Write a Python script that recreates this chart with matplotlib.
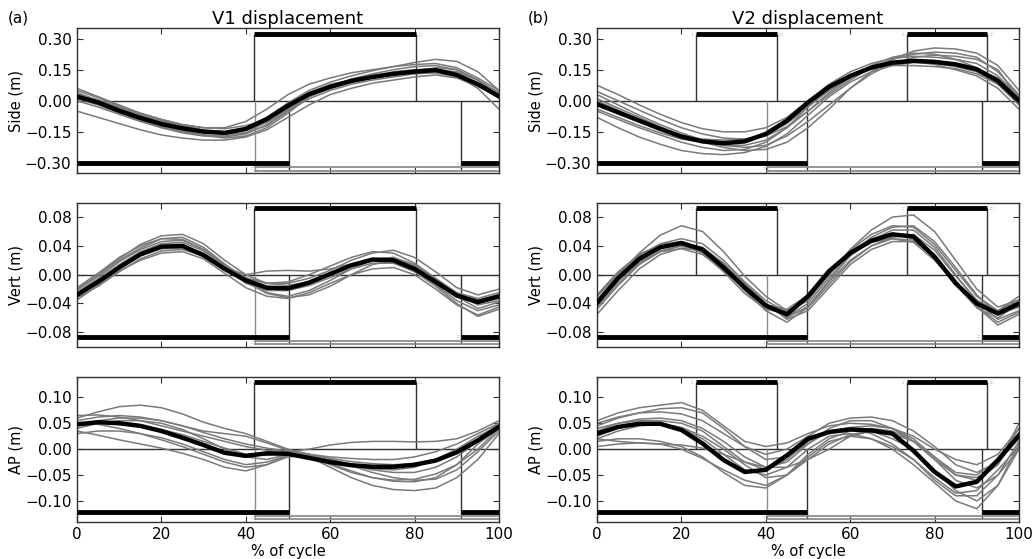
import numpy as np
import matplotlib
matplotlib.use('Agg')
import matplotlib.pyplot as plt

# % of gait cycle, sampled every 5 %
cycle = np.arange(0, 101, 5)

# ---------------- V1 ----------------
v1_side_mean = [0.02, -0.008, -0.048, -0.083, -0.112, -0.133, -0.149, -0.155, -0.136, -0.088, -0.024,
                0.032, 0.067, 0.096, 0.115, 0.13, 0.141, 0.148, 0.125, 0.08, 0.021]
v1_side_trials = [
    [0.06, 0.02, -0.02, -0.06, -0.09, -0.115, -0.13, -0.13, -0.1, -0.04, 0.03, 0.08, 0.11, 0.135, 0.15, 0.165, 0.175, 0.18, 0.16, 0.11, 0.05],
    [-0.05, -0.08, -0.11, -0.14, -0.165, -0.18, -0.19, -0.19, -0.175, -0.14, -0.08, -0.02, 0.03, 0.06, 0.085, 0.1, 0.115, 0.125, 0.11, 0.07, 0.02],
    [0.04, 0.0, -0.04, -0.075, -0.105, -0.13, -0.145, -0.15, -0.13, -0.08, -0.01, 0.05, 0.09, 0.12, 0.145, 0.165, 0.185, 0.2, 0.19, 0.14, 0.05],
    [0.0, -0.03, -0.065, -0.1, -0.13, -0.155, -0.17, -0.175, -0.16, -0.115, -0.05, 0.01, 0.05, 0.08, 0.1, 0.115, 0.13, 0.14, 0.12, 0.06, -0.04],
    [0.03, 0.0, -0.035, -0.07, -0.1, -0.125, -0.145, -0.16, -0.155, -0.12, -0.05, 0.03, 0.075, 0.1, 0.115, 0.125, 0.13, 0.135, 0.115, 0.075, 0.03],
    [0.02, -0.015, -0.055, -0.09, -0.12, -0.145, -0.165, -0.18, -0.17, -0.13, -0.06, 0.02, 0.06, 0.09, 0.11, 0.125, 0.14, 0.15, 0.14, 0.1, 0.04],
    [0.05, 0.015, -0.025, -0.06, -0.09, -0.115, -0.13, -0.135, -0.12, -0.09, -0.04, 0.02, 0.07, 0.105, 0.13, 0.15, 0.165, 0.17, 0.15, 0.1, 0.03],
    [0.01, -0.02, -0.06, -0.095, -0.125, -0.15, -0.165, -0.17, -0.155, -0.1, -0.03, 0.04, 0.08, 0.1, 0.115, 0.125, 0.14, 0.16, 0.15, 0.1, 0.02],
    [0.035, 0.005, -0.03, -0.065, -0.095, -0.12, -0.14, -0.15, -0.14, -0.105, -0.045, 0.02, 0.065, 0.095, 0.12, 0.14, 0.15, 0.155, 0.13, 0.085, 0.035],
]

v1_vert_mean = [-0.028, -0.01, 0.01, 0.028, 0.039, 0.04, 0.027, 0.008, -0.008, -0.018, -0.019,
                -0.011, 0.001, 0.013, 0.021, 0.02, 0.008, -0.01, -0.029, -0.038, -0.03]
v1_vert_trials = [
    [-0.02, 0.0, 0.022, 0.042, 0.054, 0.056, 0.043, 0.02, 0.0, -0.012, -0.015, -0.01, 0.0, 0.012, 0.022, 0.024, 0.012, -0.01, -0.03, -0.04, -0.033],
    [-0.035, -0.015, 0.005, 0.02, 0.03, 0.032, 0.022, 0.002, -0.018, -0.03, -0.033, -0.025, -0.012, 0.0, 0.008, 0.01, 0.0, -0.02, -0.042, -0.056, -0.045],
    [-0.025, -0.005, 0.018, 0.035, 0.046, 0.048, 0.035, 0.012, -0.005, -0.012, -0.01, 0.0, 0.012, 0.024, 0.032, 0.03, 0.016, -0.005, -0.025, -0.033, -0.025],
    [-0.03, -0.012, 0.01, 0.027, 0.036, 0.037, 0.027, 0.01, 0.0, 0.005, 0.006, 0.005, 0.008, 0.015, 0.022, 0.022, 0.01, -0.008, -0.026, -0.035, -0.028],
    [-0.022, -0.002, 0.02, 0.037, 0.05, 0.052, 0.038, 0.015, -0.008, -0.025, -0.03, -0.022, -0.008, 0.008, 0.02, 0.024, 0.014, -0.007, -0.03, -0.047, -0.038],
    [-0.032, -0.016, 0.004, 0.022, 0.033, 0.035, 0.026, 0.008, -0.01, -0.02, -0.02, -0.012, 0.0, 0.012, 0.02, 0.018, 0.006, -0.014, -0.036, -0.05, -0.042],
    [-0.027, -0.008, 0.014, 0.032, 0.043, 0.045, 0.033, 0.012, -0.01, -0.026, -0.032, -0.028, -0.016, 0.0, 0.014, 0.02, 0.012, -0.006, -0.027, -0.042, -0.036],
    [-0.018, 0.002, 0.024, 0.04, 0.05, 0.049, 0.035, 0.014, -0.004, -0.012, -0.012, -0.005, 0.006, 0.02, 0.03, 0.034, 0.024, 0.004, -0.018, -0.028, -0.02],
    [-0.03, -0.01, 0.01, 0.028, 0.038, 0.04, 0.03, 0.01, -0.012, -0.022, -0.022, -0.015, -0.004, 0.008, 0.016, 0.016, 0.004, -0.016, -0.04, -0.058, -0.048],
]

v1_ap_mean = [0.048, 0.052, 0.05, 0.045, 0.035, 0.022, 0.008, -0.007, -0.013, -0.008, -0.009,
              -0.017, -0.025, -0.031, -0.034, -0.034, -0.03, -0.022, -0.006, 0.017, 0.043]
v1_ap_trials = [
    [0.06, 0.072, 0.082, 0.085, 0.08, 0.068, 0.052, 0.04, 0.03, 0.015, 0.0, -0.01, -0.015, -0.018, -0.02, -0.02, -0.015, -0.005, 0.01, 0.03, 0.05],
    [0.035, 0.027, 0.018, 0.01, 0.002, -0.008, -0.02, -0.035, -0.042, -0.03, -0.012, -0.01, -0.02, -0.032, -0.045, -0.055, -0.06, -0.058, -0.04, -0.005, 0.035],
    [0.065, 0.066, 0.062, 0.055, 0.045, 0.035, 0.025, 0.015, 0.005, -0.002, -0.005, 0.0, 0.008, 0.013, 0.015, 0.015, 0.014, 0.015, 0.02, 0.035, 0.055],
    [0.04, 0.05, 0.055, 0.055, 0.05, 0.038, 0.02, 0.0, -0.015, -0.02, -0.01, -0.015, -0.035, -0.055, -0.07, -0.078, -0.08, -0.075, -0.055, -0.02, 0.03],
    [0.045, 0.055, 0.06, 0.06, 0.055, 0.045, 0.032, 0.02, 0.01, 0.002, -0.004, -0.01, -0.02, -0.03, -0.04, -0.045, -0.045, -0.035, -0.015, 0.015, 0.045],
    [0.03, 0.035, 0.035, 0.03, 0.022, 0.01, -0.005, -0.02, -0.03, -0.025, -0.012, -0.015, -0.028, -0.042, -0.055, -0.062, -0.063, -0.055, -0.03, 0.01, 0.04],
    [0.055, 0.062, 0.065, 0.062, 0.055, 0.045, 0.035, 0.03, 0.025, 0.012, -0.002, -0.01, -0.018, -0.024, -0.028, -0.03, -0.028, -0.02, -0.005, 0.02, 0.05],
    [0.05, 0.048, 0.04, 0.03, 0.018, 0.005, -0.01, -0.025, -0.035, -0.03, -0.015, -0.012, -0.02, -0.03, -0.038, -0.04, -0.035, -0.02, 0.0, 0.025, 0.045],
    [0.045, 0.05, 0.05, 0.046, 0.038, 0.028, 0.015, 0.002, -0.01, -0.012, -0.008, -0.015, -0.03, -0.045, -0.055, -0.06, -0.058, -0.048, -0.03, 0.0, 0.04],
]

# ---------------- V2 ----------------
v2_side_mean = [-0.016, -0.056, -0.096, -0.136, -0.173, -0.196, -0.205, -0.196, -0.16, -0.096, -0.008,
                0.067, 0.12, 0.16, 0.184, 0.193, 0.188, 0.176, 0.152, 0.096, 0.0]
v2_side_trials = [
    [0.075, 0.03, -0.02, -0.065, -0.105, -0.135, -0.15, -0.15, -0.13, -0.08, 0.0, 0.08, 0.14, 0.18, 0.205, 0.215, 0.21, 0.2, 0.18, 0.12, 0.02],
    [-0.08, -0.13, -0.175, -0.21, -0.24, -0.255, -0.26, -0.25, -0.22, -0.16, -0.07, 0.02, 0.09, 0.14, 0.17, 0.185, 0.18, 0.165, 0.14, 0.08, -0.02],
    [0.03, -0.02, -0.07, -0.115, -0.155, -0.19, -0.215, -0.225, -0.215, -0.17, -0.1, -0.02, 0.06, 0.13, 0.18, 0.21, 0.22, 0.215, 0.2, 0.15, 0.01],
    [-0.04, -0.08, -0.12, -0.155, -0.185, -0.2, -0.205, -0.195, -0.165, -0.11, -0.03, 0.05, 0.11, 0.155, 0.18, 0.19, 0.185, 0.175, 0.155, 0.11, 0.02],
    [0.01, -0.035, -0.08, -0.125, -0.165, -0.2, -0.225, -0.24, -0.235, -0.2, -0.13, -0.04, 0.06, 0.14, 0.2, 0.24, 0.255, 0.25, 0.23, 0.17, 0.05],
    [-0.02, -0.06, -0.1, -0.135, -0.165, -0.185, -0.19, -0.185, -0.16, -0.1, -0.02, 0.06, 0.12, 0.165, 0.19, 0.19, 0.175, 0.15, 0.12, 0.06, -0.04],
    [0.045, 0.0, -0.045, -0.09, -0.13, -0.16, -0.18, -0.185, -0.17, -0.125, -0.05, 0.03, 0.1, 0.16, 0.2, 0.225, 0.235, 0.23, 0.21, 0.14, 0.03],
    [-0.05, -0.09, -0.13, -0.165, -0.2, -0.225, -0.24, -0.235, -0.2, -0.13, -0.03, 0.06, 0.12, 0.155, 0.17, 0.17, 0.165, 0.155, 0.13, 0.08, -0.01],
    [0.0, -0.045, -0.09, -0.13, -0.17, -0.2, -0.215, -0.215, -0.19, -0.13, -0.05, 0.04, 0.11, 0.17, 0.21, 0.23, 0.225, 0.2, 0.16, 0.1, 0.0],
]

v2_vert_mean = [-0.039, -0.005, 0.022, 0.038, 0.044, 0.035, 0.01, -0.018, -0.043, -0.055, -0.03,
                0.005, 0.03, 0.047, 0.056, 0.053, 0.025, -0.012, -0.04, -0.054, -0.04]
v2_vert_trials = [
    [-0.03, 0.0, 0.03, 0.055, 0.068, 0.06, 0.032, -0.002, -0.03, -0.05, -0.035, 0.0, 0.035, 0.062, 0.08, 0.083, 0.06, 0.02, -0.02, -0.045, -0.035],
    [-0.055, -0.022, 0.008, 0.028, 0.037, 0.033, 0.015, -0.012, -0.04, -0.062, -0.05, -0.018, 0.014, 0.035, 0.046, 0.046, 0.025, -0.01, -0.045, -0.07, -0.055],
    [-0.045, -0.012, 0.016, 0.033, 0.04, 0.032, 0.008, -0.022, -0.05, -0.066, -0.045, -0.008, 0.026, 0.048, 0.062, 0.062, 0.038, 0.0, -0.038, -0.062, -0.05],
    [-0.03, 0.002, 0.028, 0.042, 0.046, 0.036, 0.008, -0.02, -0.042, -0.048, -0.028, 0.005, 0.03, 0.045, 0.05, 0.045, 0.02, -0.012, -0.038, -0.05, -0.035],
    [-0.035, -0.002, 0.026, 0.043, 0.05, 0.043, 0.02, -0.01, -0.036, -0.052, -0.036, 0.0, 0.034, 0.056, 0.068, 0.066, 0.042, 0.006, -0.03, -0.05, -0.03],
    [-0.048, -0.015, 0.014, 0.032, 0.04, 0.036, 0.016, -0.014, -0.042, -0.06, -0.044, -0.01, 0.02, 0.04, 0.05, 0.048, 0.026, -0.008, -0.044, -0.066, -0.052],
    [-0.028, 0.004, 0.028, 0.04, 0.042, 0.03, 0.004, -0.026, -0.048, -0.054, -0.032, 0.004, 0.032, 0.05, 0.058, 0.05, 0.022, -0.014, -0.046, -0.06, -0.04],
    [-0.04, -0.008, 0.02, 0.037, 0.044, 0.038, 0.016, -0.012, -0.04, -0.058, -0.04, -0.004, 0.028, 0.052, 0.066, 0.068, 0.046, 0.01, -0.028, -0.055, -0.045],
    [-0.038, -0.006, 0.018, 0.032, 0.036, 0.028, 0.006, -0.02, -0.044, -0.058, -0.046, -0.014, 0.018, 0.04, 0.052, 0.056, 0.034, -0.002, -0.035, -0.052, -0.045],
]

v2_ap_mean = [0.03, 0.043, 0.049, 0.049, 0.037, 0.011, -0.021, -0.044, -0.04, -0.012, 0.02,
              0.033, 0.038, 0.036, 0.03, -0.003, -0.044, -0.072, -0.063, -0.021, 0.027]
v2_ap_trials = [
    [0.055, 0.07, 0.08, 0.085, 0.09, 0.075, 0.045, 0.015, 0.005, 0.012, 0.03, 0.045, 0.05, 0.048, 0.04, 0.025, 0.0, -0.02, -0.03, -0.01, 0.04],
    [0.005, 0.01, 0.012, 0.01, 0.0, -0.018, -0.04, -0.06, -0.07, -0.05, -0.015, 0.015, 0.025, 0.02, 0.005, -0.02, -0.055, -0.085, -0.08, -0.04, 0.005],
    [0.045, 0.06, 0.07, 0.072, 0.068, 0.055, 0.03, 0.005, -0.01, 0.0, 0.025, 0.05, 0.06, 0.062, 0.055, 0.035, 0.005, -0.03, -0.045, -0.025, 0.02],
    [0.02, 0.035, 0.045, 0.048, 0.04, 0.02, -0.01, -0.04, -0.05, -0.035, 0.0, 0.025, 0.03, 0.02, 0.0, -0.03, -0.065, -0.1, -0.115, -0.07, 0.0],
    [0.035, 0.05, 0.058, 0.06, 0.055, 0.04, 0.015, -0.015, -0.035, -0.025, 0.01, 0.035, 0.042, 0.045, 0.04, 0.02, -0.015, -0.05, -0.06, -0.03, 0.03],
    [0.015, 0.02, 0.02, 0.015, 0.005, -0.015, -0.045, -0.07, -0.075, -0.05, -0.01, 0.02, 0.035, 0.04, 0.035, 0.015, -0.02, -0.06, -0.075, -0.05, 0.0],
    [0.04, 0.05, 0.055, 0.055, 0.05, 0.035, 0.005, -0.025, -0.04, -0.02, 0.015, 0.035, 0.04, 0.03, 0.01, -0.02, -0.06, -0.09, -0.09, -0.05, 0.015],
    [0.025, 0.04, 0.05, 0.05, 0.042, 0.025, 0.0, -0.03, -0.055, -0.05, -0.02, 0.01, 0.028, 0.035, 0.03, 0.015, -0.015, -0.045, -0.05, -0.02, 0.04],
    [0.05, 0.062, 0.07, 0.078, 0.08, 0.07, 0.04, 0.005, -0.02, -0.015, 0.01, 0.04, 0.055, 0.055, 0.04, 0.015, -0.02, -0.05, -0.055, -0.03, 0.05],
    [0.02, 0.015, 0.012, 0.01, 0.008, 0.002, -0.01, -0.025, -0.035, -0.035, -0.02, 0.0, 0.025, 0.035, 0.02, 0.0, -0.04, -0.08, -0.1, -0.07, 0.01],
]

# gait events (% of cycle): top bars, bottom bars, start of the grey (other side) bars
v1_top_bars = [(41.9, 80.3)]
v1_bot_bars = [(0, 50.3), (91.1, 100)]
v1_grey_start = 42.3
v2_top_bars = [(23.4, 42.6), (73.4, 92.5)]
v2_bot_bars = [(0, 49.8), (91.2, 100)]
v2_grey_start = 40.4

row_labels = ['Side (m)', 'Vert (m)', 'AP (m)']
row_ylims = [(-0.35, 0.35), (-0.1, 0.1), (-0.14, 0.14)]
row_yticks = [[-0.30, -0.15, 0.0, 0.15, 0.30],
              [-0.08, -0.04, 0.0, 0.04, 0.08],
              [-0.10, -0.05, 0.0, 0.05, 0.10]]

columns = [
    dict(title='V1 displacement', letter='(a)',
         means=[v1_side_mean, v1_vert_mean, v1_ap_mean],
         trials=[v1_side_trials, v1_vert_trials, v1_ap_trials],
         top=v1_top_bars, bot=v1_bot_bars, grey=v1_grey_start),
    dict(title='V2 displacement', letter='(b)',
         means=[v2_side_mean, v2_vert_mean, v2_ap_mean],
         trials=[v2_side_trials, v2_vert_trials, v2_ap_trials],
         top=v2_top_bars, bot=v2_bot_bars, grey=v2_grey_start),
]


def fmt_tick(v, pos):
    s = '%.2f' % v
    if s == '-0.00':
        s = '0.00'
    return s.replace('-', '\u2212')


plt.rcParams['font.family'] = 'DejaVu Sans'
fig = plt.figure(figsize=(10.32, 5.59), dpi=100)

col_left = [0.0746, 0.5785]
col_w = 0.4089
row_bottom = [0.690, 0.3798, 0.0668]
row_h = [0.2594, 0.2576, 0.2594]

edge = '#303030'

for c, col in enumerate(columns):
    for r in range(3):
        ax = fig.add_axes([col_left[c], row_bottom[r], col_w, row_h[r]])
        lo, hi = row_ylims[r]
        span = hi - lo
        y_top = lo + 0.96 * span
        y_bot = lo + 0.07 * span
        y_g1 = lo + 0.04 * span
        y_g2 = lo + 0.018 * span

        # individual trials and mean
        for tr in col['trials'][r]:
            ax.plot(cycle, tr, color='#7a7a7a', lw=1.1, zorder=2)
        ax.plot(cycle, col['means'][r], color='k', lw=3.2, zorder=3)

        # zero line
        ax.axhline(0, color=edge, lw=1.0, zorder=1)

        # gait event bars
        for a, b in col['top']:
            ax.plot([a, b], [y_top, y_top], color='k', lw=3.5, solid_capstyle='butt', zorder=4)
            ax.vlines([a, b], 0, y_top, color=edge, lw=1.0, zorder=1)
            ax.text(a - 0.4, y_top, '::', fontsize=4, color='#888888', ha='right', va='center')
            ax.text(b + 0.4, y_top, ':::', fontsize=4, color='#888888', ha='left', va='center')
        for a, b in col['bot']:
            ax.plot([a, b], [y_bot, y_bot], color='k', lw=3.5, solid_capstyle='butt', zorder=4)
            for e in (a, b):
                if 0 < e < 100:
                    ax.vlines(e, y_g2, 0, color=edge, lw=1.0, zorder=1)
            if a > 0:
                ax.text(a - 0.4, y_bot, '::', fontsize=4, color='#888888', ha='right', va='center')
        g = col['grey']
        ax.plot([g, 100], [y_g1, y_g1], color='#8c8c8c', lw=1.3, zorder=4)
        ax.plot([g, 100], [y_g2, y_g2], color='#8c8c8c', lw=1.3, zorder=4)
        ax.vlines(g, y_g2, 0, color='#8c8c8c', lw=1.0, zorder=1)
        ax.text(g - 0.4, y_g1 - 0.01 * span, '::', fontsize=4, color='#999999', ha='right', va='center')

        ax.set_xlim(0, 100)
        ax.set_ylim(lo, hi)
        ax.set_xticks([0, 20, 40, 60, 80, 100])
        ax.set_yticks(row_yticks[r])
        ax.yaxis.set_major_formatter(matplotlib.ticker.FuncFormatter(fmt_tick))
        ax.tick_params(direction='in', top=True, right=True, length=4, width=0.8,
                       labelsize=11, color=edge, pad=4)
        for s in ax.spines.values():
            s.set_color(edge)
            s.set_linewidth(1.0)
        ax.set_ylabel(row_labels[r], fontsize=10.5)
        ax.yaxis.set_label_coords(-0.127, 0.5)
        if r < 2:
            ax.set_xticklabels([])
        else:
            ax.set_xlabel('% of cycle', fontsize=10.5, labelpad=1)
        if r == 0:
            ax.set_title(col['title'], fontsize=13, pad=3)

    fig.text(col_left[c] - 0.067, 0.968, col['letter'], fontsize=11, va='center', ha='left')

fig.savefig('out.png', dpi=100)
